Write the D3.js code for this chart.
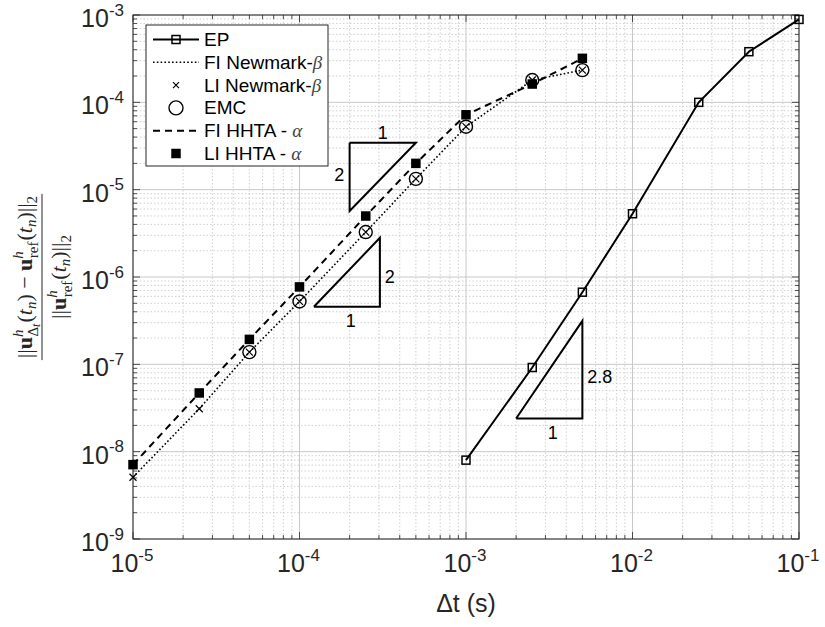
<!DOCTYPE html>
<html><head><meta charset="utf-8">
<script src="https://cdn.jsdelivr.net/npm/d3@7"></script>
<style>
body{margin:0;background:#fff;}
text{font-family:"Liberation Sans",Arial,sans-serif;fill:#262626;}
</style></head>
<body><svg id="c" width="825" height="627"></svg>
<script>
// ---- data ----
const xTicks = [1e-5, 1e-4, 1e-3, 1e-2, 1e-1];
const xTickExp = ["-5", "-4", "-3", "-2", "-1"];
const yTicks = [1e-9, 1e-8, 1e-7, 1e-6, 1e-5, 1e-4, 1e-3];
const yTickExp = ["-9", "-8", "-7", "-6", "-5", "-4", "-3"];

const epX = [1e-3, 2.5e-3, 5e-3, 1e-2, 2.5e-2, 5e-2, 1e-1];
const epY = [8.0e-9, 9.2e-8, 6.7e-7, 5.3e-6, 1.0e-4, 3.8e-4, 8.9e-4];

const dtX = [1e-5, 2.5e-5, 5e-5, 1e-4, 2.5e-4, 5e-4, 1e-3, 2.5e-3, 5e-3];
const fiNewmarkY = [5.1e-9, 3.1e-8, 1.38e-7, 5.25e-7, 3.27e-6, 1.33e-5, 5.26e-5, 1.8e-4, 2.34e-4];
const liNewmarkY = [5.1e-9, 3.1e-8, 1.38e-7, 5.25e-7, 3.27e-6, 1.33e-5, 5.26e-5, 1.8e-4, 2.34e-4];
const emcX = [5e-5, 1e-4, 2.5e-4, 5e-4, 1e-3, 2.5e-3, 5e-3];
const emcY = [1.38e-7, 5.25e-7, 3.27e-6, 1.33e-5, 5.26e-5, 1.8e-4, 2.34e-4];
const fiHHTAY = [7.1e-9, 4.7e-8, 1.93e-7, 7.7e-7, 4.99e-6, 2.0e-5, 7.2e-5, 1.62e-4, 3.19e-4];
const liHHTAY = [7.1e-9, 4.7e-8, 1.93e-7, 7.7e-7, 4.99e-6, 2.0e-5, 7.2e-5, 1.62e-4, 3.19e-4];

// slope triangles: [x-left, x-right, y-low, y-high, type]
const triangles = [
  [2e-4, 5e-4, 5.7e-6, 3.44e-5, "topleft"],
  [1.22e-4, 3.04e-4, 4.56e-7, 2.81e-6, "bottomright"],
  [2e-3, 5e-3, 2.4e-8, 3.15e-7, "bottomright"]
];
const triLabels = [
  ["1", 3.16e-4, 4.49e-5], ["2", 1.73e-4, 1.51e-5],
  ["2", 3.49e-4, 1.02e-6], ["1", 2.03e-4, 3.15e-7],
  ["2.8", 6.35e-3, 7.3e-8], ["1", 3.32e-3, 1.67e-8]
];
const legendNames = ["EP", "FI Newmark-", "LI Newmark-", "EMC", "FI HHTA - ", "LI HHTA - "];
const legendGreek = ["", "β", "β", "", "α", "α"];

// ---- chart ----
const svg = d3.select("#c");
const L = 133, R = 799, T = 15, B = 539;
const x = d3.scaleLog().domain([1e-5, 1e-1]).range([L, R]);
const y = d3.scaleLog().domain([1e-9, 1e-3]).range([B, T]);

const minorX = [], minorY = [];
for (let e = -5; e < -1; e++) for (let m = 2; m <= 9; m++) minorX.push(m * Math.pow(10, e));
for (let e = -9; e < -3; e++) for (let m = 2; m <= 9; m++) minorY.push(m * Math.pow(10, e));

const g = svg.append("g");
g.selectAll(".mgx").data(minorX).enter().append("line")
  .attr("x1", d => x(d)).attr("x2", d => x(d)).attr("y1", T).attr("y2", B)
  .attr("stroke", "#c4c4c4").attr("stroke-width", 0.8).attr("stroke-dasharray", "1.5,2");
g.selectAll(".mgy").data(minorY).enter().append("line")
  .attr("y1", d => y(d)).attr("y2", d => y(d)).attr("x1", L).attr("x2", R)
  .attr("stroke", "#c4c4c4").attr("stroke-width", 0.8).attr("stroke-dasharray", "1.5,2");
g.selectAll(".gx").data(xTicks).enter().append("line")
  .attr("x1", d => x(d)).attr("x2", d => x(d)).attr("y1", T).attr("y2", B)
  .attr("stroke", "#c8c8c8").attr("stroke-width", 1);
g.selectAll(".gy").data(yTicks).enter().append("line")
  .attr("y1", d => y(d)).attr("y2", d => y(d)).attr("x1", L).attr("x2", R)
  .attr("stroke", "#c8c8c8").attr("stroke-width", 1);

const tk = svg.append("g").attr("stroke", "#262626").attr("stroke-width", 0.8);
xTicks.forEach(d => {
  tk.append("line").attr("x1", x(d)).attr("x2", x(d)).attr("y1", B).attr("y2", B - 7);
  tk.append("line").attr("x1", x(d)).attr("x2", x(d)).attr("y1", T).attr("y2", T + 7);
});
minorX.forEach(d => {
  tk.append("line").attr("x1", x(d)).attr("x2", x(d)).attr("y1", B).attr("y2", B - 4);
  tk.append("line").attr("x1", x(d)).attr("x2", x(d)).attr("y1", T).attr("y2", T + 4);
});
yTicks.forEach(d => {
  tk.append("line").attr("y1", y(d)).attr("y2", y(d)).attr("x1", L).attr("x2", L + 7);
  tk.append("line").attr("y1", y(d)).attr("y2", y(d)).attr("x1", R).attr("x2", R - 7);
});
minorY.forEach(d => {
  tk.append("line").attr("y1", y(d)).attr("y2", y(d)).attr("x1", L).attr("x2", L + 4);
  tk.append("line").attr("y1", y(d)).attr("y2", y(d)).attr("x1", R).attr("x2", R - 4);
});
svg.append("rect").attr("x", L).attr("y", T).attr("width", R - L).attr("height", B - T)
  .attr("fill", "none").attr("stroke", "#262626").attr("stroke-width", 1);

// tick labels
xTicks.forEach((d, i) => {
  const t = svg.append("text").attr("x", x(d) - 1).attr("y", 572).attr("text-anchor", "middle")
    .attr("font-size", 25);
  t.append("tspan").text("10");
  t.append("tspan").attr("font-size", 17).attr("dy", -11.5).text(xTickExp[i]);
});
yTicks.forEach((d, i) => {
  const t = svg.append("text").attr("x", 124).attr("y", y(d) + 12).attr("text-anchor", "end")
    .attr("font-size", 25);
  t.append("tspan").text("10");
  t.append("tspan").attr("font-size", 17).attr("dy", -11.5).text(yTickExp[i]);
});

// x label
svg.append("text").attr("x", (L + R) / 2).attr("y", 612).attr("text-anchor", "middle")
  .attr("font-size", 25).text("Δt (s)");

// y label (fraction, rotated)
const serif = "'Liberation Serif','DejaVu Serif',serif";
const yl = svg.append("g").attr("transform", "translate(42," + ((T + B) / 2) + ") rotate(-90)");
function mathText(parent, yb, parts) {
  const t = parent.append("text").attr("x", 0).attr("y", yb).attr("text-anchor", "middle")
    .attr("font-size", 22).style("font-family", serif);
  parts.forEach(p => {
    const s = t.append("tspan").text(p.t);
    if (p.b) s.attr("font-weight", "bold");
    if (p.i) s.attr("font-style", "italic");
    if (p.fs) s.attr("font-size", p.fs);
    if (p.dy) s.attr("dy", p.dy);
    if (p.dx) s.attr("dx", p.dx);
  });
  return t;
}
const num = mathText(yl, -10, [
  {t: "||"}, {t: "u", b: 1}, {t: "h", i: 1, fs: 15, dy: -9}, {t: "Δ", fs: 15, dy: 15, dx: -7}, {t: "t", i: 1, fs: 12, dy: 2},
  {t: "(", dy: -8, dx: 1}, {t: "t", i: 1}, {t: "n", i: 1, fs: 15, dy: 4}, {t: ")", dy: -4},
  {t: " − "}, {t: "u", b: 1}, {t: "h", i: 1, fs: 15, dy: -9}, {t: "ref", fs: 15, dy: 15, dx: -7},
  {t: "(", dy: -6, dx: 1}, {t: "t", i: 1}, {t: "n", i: 1, fs: 15, dy: 4}, {t: ")||", dy: -4}, {t: "2", fs: 15, dy: 5}
]);
const den = mathText(yl, 24, [
  {t: "||"}, {t: "u", b: 1}, {t: "h", i: 1, fs: 15, dy: -9}, {t: "ref", fs: 15, dy: 15, dx: -7},
  {t: "(", dy: -6, dx: 1}, {t: "t", i: 1}, {t: "n", i: 1, fs: 15, dy: 4}, {t: ")||", dy: -4}, {t: "2", fs: 15, dy: 5}
]);
const nw = num.node().getBBox().width;
yl.append("line").attr("x1", -nw / 2 - 2).attr("x2", nw / 2 + 2).attr("y1", 0).attr("y2", 0)
  .attr("stroke", "#262626").attr("stroke-width", 1);

const plot = svg.append("g");
const line = d3.line().x(d => x(d[0])).y(d => y(d[1]));
const zip = (a, b) => a.map((v, i) => [v, b[i]]);

// slope triangles
triangles.forEach(tr => {
  const [x0, x1, y0, y1, type] = tr;
  const pts = type === "topleft"
    ? [[x0, y1], [x1, y1], [x0, y0], [x0, y1]]
    : [[x0, y0], [x1, y0], [x1, y1], [x0, y0]];
  plot.append("path").attr("d", line(pts)).attr("fill", "none").attr("stroke", "#000")
    .attr("stroke-width", 2).attr("stroke-linejoin", "miter");
});
triLabels.forEach(l => {
  plot.append("text").attr("x", x(l[1])).attr("y", y(l[2]) + 6.5).attr("text-anchor", "middle")
    .attr("font-size", 18).style("fill", "#000").text(l[0]);
});

// lines
plot.append("path").attr("d", line(zip(dtX, fiNewmarkY))).attr("fill", "none")
  .attr("stroke", "#000").attr("stroke-width", 1.6).attr("stroke-dasharray", "1.6,2.2");
plot.append("path").attr("d", line(zip(dtX, fiHHTAY))).attr("fill", "none")
  .attr("stroke", "#000").attr("stroke-width", 2).attr("stroke-dasharray", "7,5");
plot.append("path").attr("d", line(zip(epX, epY))).attr("fill", "none")
  .attr("stroke", "#000").attr("stroke-width", 2);

// markers
function sq(sel, filled) {
  sel.attr("width", 8).attr("height", 8).attr("transform", "translate(-4,-4)")
    .attr("fill", filled ? "#000" : "none").attr("stroke", "#000").attr("stroke-width", 1.5);
}
plot.selectAll(".ep").data(zip(epX, epY)).enter().append("rect")
  .attr("x", d => x(d[0])).attr("y", d => y(d[1])).call(s => sq(s, false));
plot.selectAll(".emc").data(zip(emcX, emcY)).enter().append("circle")
  .attr("cx", d => x(d[0])).attr("cy", d => y(d[1])).attr("r", 6.5)
  .attr("fill", "none").attr("stroke", "#000").attr("stroke-width", 1.4);
plot.selectAll(".lin").data(zip(dtX, liNewmarkY)).enter().append("path")
  .attr("d", d => { const cx = x(d[0]), cy = y(d[1]), r = 3.5;
    return `M${cx-r},${cy-r}L${cx+r},${cy+r}M${cx-r},${cy+r}L${cx+r},${cy-r}`; })
  .attr("stroke", "#000").attr("stroke-width", 1.2);
plot.selectAll(".lih").data(zip(dtX, liHHTAY)).enter().append("rect")
  .attr("x", d => x(d[0])).attr("y", d => y(d[1])).call(s => sq(s, true));

// legend
const lg = svg.append("g");
lg.append("rect").attr("x", 146).attr("y", 25).attr("width", 182).attr("height", 141)
  .attr("fill", "#fff").attr("stroke", "#262626").attr("stroke-width", 1);
const ly = i => 39.5 + i * 22.8;
const lx0 = 153, lx1 = 199, lxm = 176;
lg.append("line").attr("x1", lx0).attr("x2", lx1).attr("y1", ly(0)).attr("y2", ly(0))
  .attr("stroke", "#000").attr("stroke-width", 2);
lg.append("rect").attr("x", lxm).attr("y", ly(0)).call(s => sq(s, false));
lg.append("line").attr("x1", lx0).attr("x2", lx1).attr("y1", ly(1)).attr("y2", ly(1))
  .attr("stroke", "#000").attr("stroke-width", 1.6).attr("stroke-dasharray", "1.6,2.2");
lg.append("path").attr("d", `M${lxm-3},${ly(2)-3}L${lxm+3},${ly(2)+3}M${lxm-3},${ly(2)+3}L${lxm+3},${ly(2)-3}`)
  .attr("stroke", "#000").attr("stroke-width", 1.2);
lg.append("circle").attr("cx", lxm).attr("cy", ly(3)).attr("r", 7)
  .attr("fill", "none").attr("stroke", "#000").attr("stroke-width", 1.4);
lg.append("line").attr("x1", lx0).attr("x2", lx1).attr("y1", ly(4)).attr("y2", ly(4))
  .attr("stroke", "#000").attr("stroke-width", 2).attr("stroke-dasharray", "7,5");
lg.append("rect").attr("x", lxm).attr("y", ly(5)).call(s => sq(s, true));
legendNames.forEach((n, i) => {
  const t = lg.append("text").attr("x", 204).attr("y", ly(i) + 6.5).attr("font-size", 19).style("fill", "#000");
  t.append("tspan").text(n);
  if (legendGreek[i]) t.append("tspan").style("font-family", serif)
    .attr("font-style", "italic").style("fill", "#444").text(legendGreek[i]);
});
</script></body></html>
